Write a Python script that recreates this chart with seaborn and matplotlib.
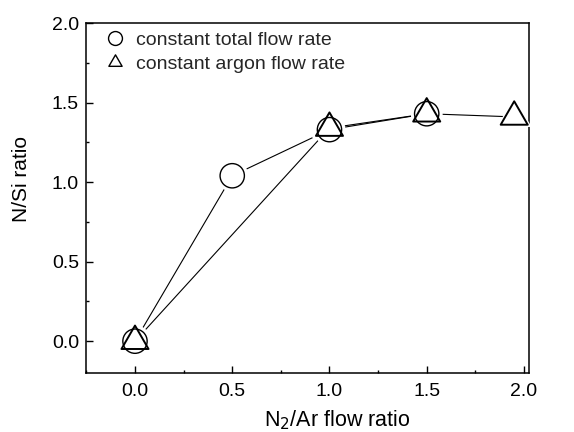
import matplotlib
matplotlib.use("Agg")
import matplotlib.pyplot as plt
import seaborn as sns
import pandas as pd
from matplotlib.ticker import MultipleLocator, FormatStrFormatter
from matplotlib.lines import Line2D
from matplotlib.path import Path

sns.set_theme(style="ticks")
plt.rcParams['font.family'] = ['Liberation Sans', 'DejaVu Sans']

x_total = [0.0, 0.5, 1.0, 1.5]
y_total = [0.0, 1.04, 1.33, 1.43]
x_argon = [0.0, 1.0, 1.5, 1.95]
y_argon = [0.0, 1.34, 1.43, 1.41]

label_total = "constant total flow rate"
label_argon = "constant argon flow rate"

TRI = Path([(-1.0, -0.5774), (1.0, -0.5774), (0.0, 1.1547), (-1.0, -0.5774)],
           [Path.MOVETO, Path.LINETO, Path.LINETO, Path.CLOSEPOLY])

fig = plt.figure(figsize=(5.74, 4.32), dpi=100)
ax = fig.add_axes([0.1498, 0.1366, 0.7718, 0.810])

df_t = pd.DataFrame({"x": x_total, "y": y_total})
df_a = pd.DataFrame({"x": x_argon, "y": y_argon})

# connecting lines
sns.lineplot(data=df_t, x="x", y="y", ax=ax, color="black", lw=0.8, zorder=2)
sns.lineplot(data=df_a, x="x", y="y", ax=ax, color="black", lw=0.8, zorder=2)

# white halos so lines stop short of the markers
sns.scatterplot(data=df_t, x="x", y="y", ax=ax, marker="o", s=23**2,
                color="white", edgecolor="none", linewidth=0, zorder=3,
                clip_on=False)
sns.scatterplot(data=df_a, x="x", y="y", ax=ax, marker=TRI, s=29**2,
                color="white", edgecolor="none", linewidth=0, zorder=3,
                clip_on=False)

# markers
sns.scatterplot(data=df_t, x="x", y="y", ax=ax, marker="o", s=17.5**2,
                facecolor="none", edgecolor="black", linewidth=1.0, zorder=4,
                clip_on=False)
sns.scatterplot(data=df_a, x="x", y="y", ax=ax, marker=TRI, s=22.5**2,
                facecolor="none", edgecolor="black", linewidth=1.4, zorder=5,
                clip_on=False)

ax.set_xlim(-0.252, 2.026)
ax.set_ylim(-0.2, 2.0)
ax.xaxis.set_major_locator(MultipleLocator(0.5))
ax.xaxis.set_minor_locator(MultipleLocator(0.25))
ax.yaxis.set_major_locator(MultipleLocator(0.5))
ax.yaxis.set_minor_locator(MultipleLocator(0.25))
ax.xaxis.set_major_formatter(FormatStrFormatter("%.1f"))
ax.yaxis.set_major_formatter(FormatStrFormatter("%.1f"))
ax.tick_params(which="both", direction="in", color="black", labelsize=14,
               width=1.0, pad=5, labelcolor="black")
ax.tick_params(axis="x", which="both", pad=7)
ax.tick_params(which="major", length=5)
ax.tick_params(which="minor", length=2.5)
for s in ax.spines.values():
    s.set_linewidth(1.1)
    s.set_color("black")

ax.set_xlabel("N$_2$/Ar flow ratio", fontsize=15.5, color="black")
ax.set_ylabel("N/Si ratio", fontsize=15, color="black")
ax.xaxis.set_label_coords(0.566, -0.100)
ax.yaxis.set_label_coords(-0.124, 0.554)

handles = [
    Line2D([], [], ls="none", marker="o", markersize=10, markerfacecolor="none",
           markeredgecolor="black", markeredgewidth=1.0),
    Line2D([], [], ls="none", marker=TRI, markersize=11, markerfacecolor="none",
           markeredgecolor="black", markeredgewidth=1.0),
]
ax.legend(handles, [label_total, label_argon],
          loc="upper left", bbox_to_anchor=(0.043, 0.977), frameon=False,
          fontsize=14, handletextpad=0.6, borderpad=0, borderaxespad=0,
          labelspacing=0.35, handlelength=1.0)

fig.savefig("out.png", dpi=100)
